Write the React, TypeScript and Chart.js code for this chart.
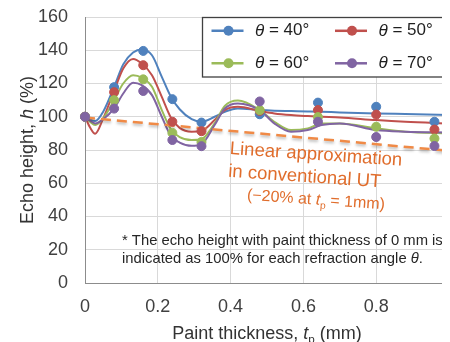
import React, { useEffect, useRef } from "react";
import { Chart, registerables } from "chart.js";

Chart.register(...registerables);

// Measured echo heights (%) at each paint thickness (mm)
const thicknessPoints = [0, 0.08, 0.16, 0.24, 0.32, 0.48, 0.64, 0.8, 0.96];
const measured40 = [100, 117.8, 139.6, 110.6, 96.5, 101.5, 108.5, 106, 97];
const measured50 = [100, 114.8, 131, 97, 91.3, 103.5, 104, 101.3, 92.3];
const measured60 = [100, 110, 122.5, 90.3, 84.8, 104, 99.8, 94, 86.9];
const measured70 = [100, 104.9, 115.5, 86, 82.3, 109.2, 97, 87.8, 82.4];

// Smoothed trend curves for each refraction angle
const curveThickness = [
  0, 0.014, 0.028, 0.05, 0.08, 0.105, 0.132, 0.156, 0.184, 0.211, 0.236, 0.26, 0.293,
  0.32, 0.356, 0.384, 0.42, 0.48, 0.52, 0.566, 0.612, 0.65, 0.7, 0.8, 0.88, 1.0,
];
const curve40 = [
  100, 98.3, 97.4, 103, 118, 131.5, 138.6, 140.5, 137, 124, 112, 104.5, 98.5,
  97, 100, 103, 105, 104, 103.6, 103.4, 103.2, 103, 102.6, 102, 101.6, 101,
];
const curve50 = [
  100, 93.5, 89.8, 99, 115.5, 129, 134.8, 132, 125, 112, 99.5, 93.3, 91,
  91.5, 98, 104, 106, 103.5, 102, 101, 100.4, 100, 99.6, 98, 97, 96,
];
const curve60 = [
  100, 97, 95, 99, 110, 120, 125, 123.5, 118, 104, 92.5, 87.8, 86,
  86.5, 96, 106.5, 109.7, 104, 97, 92, 93, 96, 96, 93, 91, 90,
];
const curve70 = [
  100, 97.6, 96, 98.5, 105, 114, 120.5, 119, 113, 100, 88.5, 84.5, 82.5,
  83.5, 95, 105, 108, 104, 96, 91, 92, 95, 96, 92, 91, 90.5,
];

// Linear approximation used in conventional UT (about -20% at 1 mm)
const linearThickness = [0, 1];
const linearEcho = [99.5, 79.5];

const angleLabels = ["40", "50", "60", "70"];
const seriesColors = ["#4f81bd", "#c0504d", "#9bbb59", "#8064a2"];
const xTickValues = [0, 0.2, 0.4, 0.6, 0.8, 1];
const yTickValues = [0, 20, 40, 60, 80, 100, 120, 140, 160];

const FONT = "'Liberation Sans', Arial, sans-serif";

type Run = { text: string; italic?: boolean; sub?: boolean };

function runFont(run: Run, size: number) {
  const s = run.sub ? size * 0.65 : size;
  return `${run.italic ? "italic " : ""}${s}px ${FONT}`;
}

function measureRuns(ctx: CanvasRenderingContext2D, runs: Run[], size: number) {
  let w = 0;
  for (const r of runs) {
    ctx.font = runFont(r, size);
    w += ctx.measureText(r.text).width;
  }
  return w;
}

function drawRuns(
  ctx: CanvasRenderingContext2D,
  runs: Run[],
  x: number,
  y: number,
  size: number,
  color: string,
  align: "left" | "center" = "left"
) {
  let cx = align === "center" ? x - measureRuns(ctx, runs, size) / 2 : x;
  ctx.fillStyle = color;
  ctx.textAlign = "left";
  for (const r of runs) {
    ctx.font = runFont(r, size);
    ctx.fillText(r.text, cx, r.sub ? y + size * 0.25 : y);
    cx += ctx.measureText(r.text).width;
  }
}

const decorPlugin = {
  id: "decor",
  beforeDatasetDraw(chart: any, args: any) {
    if (chart.data.datasets[args.index].label === "linear") {
      const ctx = chart.ctx;
      ctx.save();
      ctx.shadowColor = "rgba(0,0,0,0.28)";
      ctx.shadowBlur = 3;
      ctx.shadowOffsetY = 2;
    }
  },
  afterDatasetDraw(chart: any, args: any) {
    if (chart.data.datasets[args.index].label === "linear") {
      chart.ctx.restore();
    }
  },
  afterDraw(chart: any) {
    const ctx: CanvasRenderingContext2D = chart.ctx;
    const area = chart.chartArea;
    ctx.save();

    // Axis titles
    ctx.textBaseline = "alphabetic";
    drawRuns(
      ctx,
      [{ text: "Paint thickness, " }, { text: "t", italic: true }, { text: "p", sub: true }, { text: " (mm)" }],
      259,
      330.5,
      18,
      "#333333",
      "center"
    );
    ctx.save();
    ctx.translate(24.5, (area.top + area.bottom) / 2);
    ctx.rotate(-Math.PI / 2);
    drawRuns(
      ctx,
      [{ text: "Echo height, " }, { text: "h", italic: true }, { text: " (%)" }],
      0,
      0,
      18,
      "#333333",
      "center"
    );
    ctx.restore();

    // Legend box
    const lx = 194.5, ly = 9.5, lw = 244, lh = 59.5;
    ctx.fillStyle = "#ffffff";
    ctx.fillRect(lx, ly, lw, lh);
    ctx.strokeStyle = "#404040";
    ctx.lineWidth = 1.3;
    ctx.strokeRect(lx, ly, lw, lh);
    const cols = [203.5, 327];
    const rows = [22.8, 55.3];
    angleLabels.forEach((a, i) => {
      const x0 = cols[i % 2];
      const y0 = rows[Math.floor(i / 2)];
      const color = seriesColors[i];
      ctx.strokeStyle = color;
      ctx.lineWidth = 2.5;
      ctx.beginPath();
      ctx.moveTo(x0, y0);
      ctx.lineTo(x0 + 32, y0);
      ctx.stroke();
      ctx.fillStyle = color;
      ctx.beginPath();
      ctx.arc(x0 + 17, y0, 5, 0, Math.PI * 2);
      ctx.fill();
      ctx.textBaseline = "middle";
      drawRuns(ctx, [{ text: "θ", italic: true }, { text: ` = ${a}°` }], x0 + 43.5, y0, 17, "#1f1f1f");
    });

    // Note about normalisation
    ctx.textBaseline = "middle";
    drawRuns(ctx, [{ text: "* The echo height with paint thickness of 0 mm is" }], 114, 232.7, 14.8, "#262626");
    drawRuns(
      ctx,
      [{ text: "indicated as 100% for each refraction angle " }, { text: "θ", italic: true }, { text: "." }],
      114,
      251,
      14.8,
      "#262626"
    );

    // Label for the linear approximation
    const orange = "#e06d2c";
    ctx.textBaseline = "alphabetic";
    const tilt = (3.9 * Math.PI) / 180;
    const orangeLines: { x: number; y: number; size: number; runs: Run[] }[] = [
      { x: 221.5, y: 146, size: 18.5, runs: [{ text: "Linear approximation" }] },
      { x: 220, y: 168.8, size: 18.5, runs: [{ text: "in conventional UT" }] },
      {
        x: 238.7,
        y: 191.8,
        size: 16,
        runs: [{ text: "(\u221220% at " }, { text: "t", italic: true }, { text: "p", sub: true }, { text: " = 1mm)" }],
      },
    ];
    for (const l of orangeLines) {
      ctx.save();
      ctx.translate(l.x, l.y);
      ctx.rotate(tilt);
      drawRuns(ctx, l.runs, 0, 0, l.size, orange);
      ctx.restore();
    }

    ctx.restore();
  },
};

function toPoints(xs: number[], ys: number[]) {
  return xs.map((x, i) => ({ x, y: ys[i] }));
}

export default function App() {
  const canvasRef = useRef<HTMLCanvasElement | null>(null);

  useEffect(() => {
    if (!canvasRef.current) return;
    const measured = [measured40, measured50, measured60, measured70];
    const curves = [curve40, curve50, curve60, curve70];

    const pointSets = measured.map((vals, i) => ({
      label: `points ${angleLabels[i]}`,
      data: toPoints(thicknessPoints, vals),
      showLine: false,
      pointRadius: 4.5,
      pointBorderWidth: 1,
      pointBackgroundColor: seriesColors[i],
      pointBorderColor: seriesColors[i],
      borderColor: seriesColors[i],
      backgroundColor: seriesColors[i],
      clip: false as any,
      order: 3 - i,
    }));
    const curveSets = curves.map((vals, i) => ({
      label: `curve ${angleLabels[i]}`,
      data: toPoints(curveThickness, vals),
      borderColor: seriesColors[i],
      borderWidth: 2,
      pointRadius: 0,
      cubicInterpolationMode: "monotone" as const,
      fill: false,
      clip: false as any,
      order: 13 - i,
    }));
    const linearSet = {
      label: "linear",
      data: toPoints(linearThickness, linearEcho),
      borderColor: "#f08a46",
      borderWidth: 2.5,
      borderDash: [10, 6],
      pointRadius: 0,
      fill: false,
      clip: false as any,
      order: 5,
    };

    const tickFont = { family: FONT, size: 18 };
    const chart = new Chart(canvasRef.current, {
      type: "line",
      data: { datasets: [...pointSets, linearSet, ...curveSets] as any },
      options: {
        animation: false,
        responsive: false,
        devicePixelRatio: 1,
        events: [],
        layout: { padding: { left: 0, top: 9, right: 29, bottom: 0 } },
        plugins: { legend: { display: false }, tooltip: { enabled: false } },
        scales: {
          x: {
            type: "linear",
            min: 0,
            max: 1,
            afterBuildTicks: (s: any) => {
              s.ticks = xTickValues.map((value) => ({ value }));
            },
            afterFit: (s: any) => {
              s.height = 59;
              s.paddingLeft = 0;
              s.paddingRight = 0;
            },
            grid: { color: "#d9d9d9", drawTicks: false },
            border: { color: "#8c8c8c", width: 1 },
            ticks: {
              padding: 13,
              autoSkip: false,
              maxRotation: 0,
              font: tickFont,
              color: "#404040",
              callback: (v: any) => String(v),
            },
          },
          y: {
            type: "linear",
            min: 0,
            max: 160,
            afterBuildTicks: (s: any) => {
              s.ticks = yTickValues.map((value) => ({ value }));
            },
            afterFit: (s: any) => {
              s.width = 77;
              s.paddingTop = 0;
              s.paddingBottom = 0;
            },
            grid: { color: "#d9d9d9", drawTicks: false },
            border: { color: "#8c8c8c", width: 1 },
            ticks: { padding: 17, font: tickFont, color: "#404040", callback: (v: any) => String(v) },
          },
        },
      },
      plugins: [decorPlugin],
    });
    return () => chart.destroy();
  }, []);

  return (
    <div style={{ width: 442, height: 334, overflow: "hidden", position: "relative" }}>
      <canvas ref={canvasRef} width={470} height={334} style={{ display: "block", width: 470, height: 334 }} />
    </div>
  );
}
